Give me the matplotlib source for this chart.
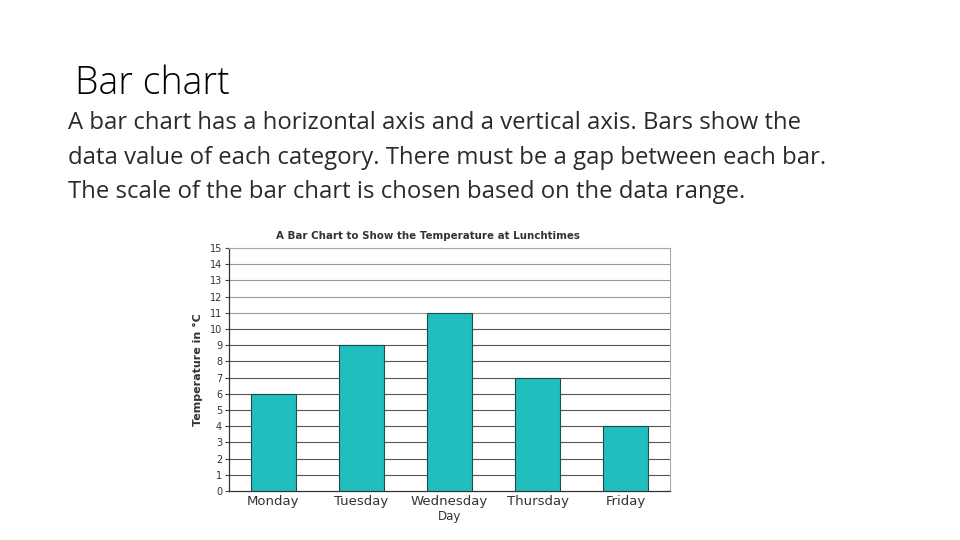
import matplotlib
matplotlib.use("Agg")
import matplotlib.pyplot as plt

days = ["Monday", "Tuesday", "Wednesday", "Thursday", "Friday"]
temps = [6, 9, 11, 7, 4]
yticks = list(range(0, 16))

heading = "Bar chart"
paragraph = [
    "A bar chart has a horizontal axis and a vertical axis. Bars show the",
    "data value of each category. There must be a gap between each bar.",
    "The scale of the bar chart is chosen based on the data range.",
]
chart_title = "A Bar Chart to Show the Temperature at Lunchtimes"

fig = plt.figure(figsize=(9.6, 5.4), dpi=100)
fig.patch.set_facecolor("white")

fig.text(75 / 960, 1 - 94 / 540, heading, fontsize=27, family="Open Sans",
         fontweight="light", color="black", va="baseline", ha="left")
for i, line in enumerate(paragraph):
    fig.text(68 / 960, 1 - (129 + 34.5 * i) / 540, line, fontsize=17.2,
             family="Open Sans", color="#2a2a2a", va="baseline", ha="left")

ax = fig.add_axes([229 / 960, 1 - 491 / 540, 441 / 960, 243 / 540])
ax.bar(range(len(days)), temps, width=0.51, color="#22BDBD",
       edgecolor="#1d4d4d", linewidth=0.8, zorder=3)
ax.set_xlim(-0.5, len(days) - 0.5)
ax.set_ylim(0, 15)
ax.set_yticks(yticks)
ax.set_yticklabels([str(v) for v in yticks], fontsize=7, color="#333333")
ax.set_xticks(range(len(days)))
ax.set_xticklabels(days, fontsize=9.5, color="#333333")
ax.tick_params(axis="x", length=0, pad=3)
ax.tick_params(axis="y", length=3, width=0.8, color="#444444", pad=2)
for v in yticks[1:]:
    ax.axhline(v, color="#555555" if v < 11 else "#999999", lw=0.8, zorder=1)
for s in ["left", "bottom"]:
    ax.spines[s].set_color("#333333")
    ax.spines[s].set_linewidth(0.9)
for s in ["top", "right"]:
    ax.spines[s].set_color("#aaaaaa")
    ax.spines[s].set_linewidth(0.8)
ax.set_xlabel("Day", fontsize=8.5, color="#333333", labelpad=1)
ax.set_ylabel("Temperature in °C", fontsize=8, fontweight="bold",
              color="#333333", labelpad=5)
fig.text(428 / 960, 1 - 236 / 540, chart_title, fontsize=7.4, fontweight="bold",
         color="#333333", ha="center", va="center")

fig.savefig("out.png", dpi=100)
